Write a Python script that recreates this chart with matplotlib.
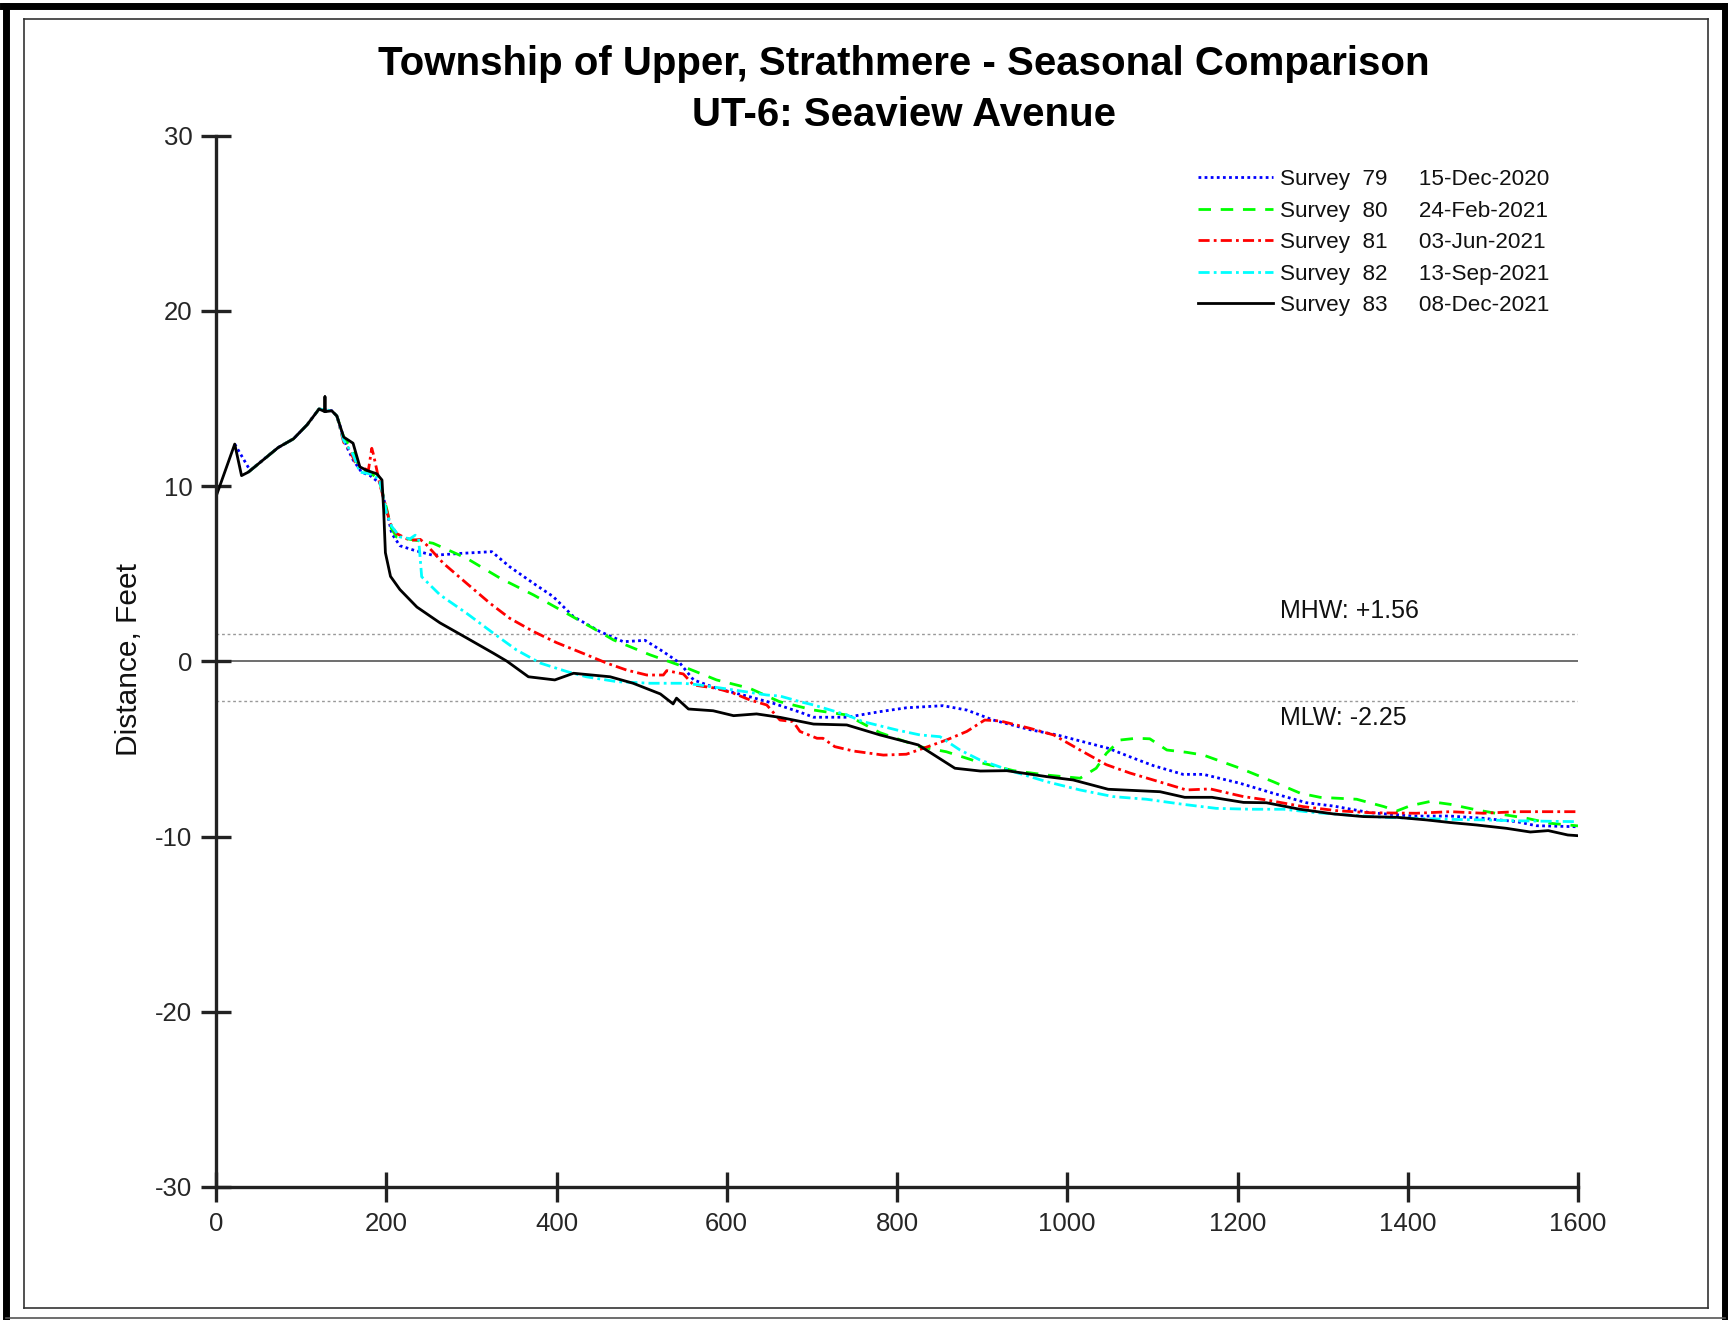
import matplotlib
matplotlib.use("Agg")
import matplotlib.pyplot as plt
from matplotlib.lines import Line2D

plt.rcParams['font.family'] = ['Liberation Sans', 'DejaVu Sans']
plt.rcParams['axes.unicode_minus'] = False

title_1 = "Township of Upper, Strathmere - Seasonal Comparison"
title_2 = "UT-6: Seaview Avenue"
y_label = "Distance, Feet"

survey_ids = ["79", "80", "81", "82", "83"]
survey_dates = ["15-Dec-2020", "24-Feb-2021", "03-Jun-2021", "13-Sep-2021", "08-Dec-2021"]

x79 = [22, 40, 73, 91, 107, 121, 136, 142, 153.5, 161, 171, 181, 192.6, 200.5, 206.4, 216, 232, 255, 287, 324,
       345, 373, 396, 420, 451, 478.5, 504, 525.5, 545, 561, 588, 627, 655, 686, 702, 741, 780, 811, 854, 882,
       913, 956, 988, 1048, 1078, 1101, 1136, 1160, 1203, 1242, 1281, 1313, 1356, 1406, 1450, 1489, 1528, 1551, 1600]
y79 = [12.4, 10.9, 12.2, 12.7, 13.5, 14.4, 14.3, 14.0, 12.25, 11.5, 10.8, 10.6, 10.16, 8.6, 7.3, 6.6, 6.35, 6.05, 6.16, 6.26,
       5.4, 4.45, 3.7, 2.55, 1.7, 1.12, 1.2, 0.55, -0.1, -1.06, -1.54, -2.02, -2.4, -2.9, -3.19, -3.19, -2.87, -2.65, -2.53, -2.78,
       -3.35, -3.9, -4.2, -4.96, -5.53, -5.95, -6.45, -6.45, -6.96, -7.53, -8.07, -8.26, -8.64, -8.83, -8.83, -8.96, -9.15, -9.38, -9.44]

x80 = [38, 73, 91, 107, 121, 136, 142, 150, 161, 169, 181, 192, 200, 206, 212, 224, 255, 294.5, 334, 373,
       412, 443, 467, 510, 549, 588, 627, 662, 702, 741, 780, 827, 858, 898, 937, 976, 1015, 1034, 1046, 1062,
       1081, 1097, 1117, 1140, 1160, 1203, 1242, 1274, 1297, 1340, 1372, 1387, 1403, 1426, 1450, 1481, 1508, 1540, 1567, 1600]
y80 = [10.8, 12.2, 12.7, 13.5, 14.4, 14.3, 14.0, 12.8, 12.0, 11.0, 10.8, 10.3, 8.8, 7.6, 7.1, 7.0, 6.74, 5.88, 4.74, 3.79,
       2.74, 1.89, 1.22, 0.37, -0.3, -1.06, -1.54, -2.3, -2.78, -3.06, -4.07, -4.87, -5.16, -5.78, -6.24, -6.49, -6.67, -6.1, -5.25, -4.49,
       -4.39, -4.42, -5.06, -5.19, -5.35, -6.1, -6.87, -7.53, -7.76, -7.87, -8.29, -8.54, -8.24, -8.0, -8.16, -8.48, -8.71, -8.96, -9.24, -9.39]

x81 = [38, 73, 91, 107, 121, 136, 142, 150, 157, 165, 179, 183, 185, 189, 192.6, 198.5, 204.4, 212, 228, 240,
       247.5, 267, 294.5, 322, 345, 373, 400, 431, 459, 482.5, 506, 525.5, 529.5, 549, 561, 588, 608, 627, 647, 662.5,
       678, 686, 706, 713, 727, 749, 784, 811, 831, 858, 882, 903, 921, 956, 984, 1015, 1046, 1074, 1101, 1140,
       1168, 1207, 1234, 1277, 1316, 1356, 1410, 1450, 1489, 1528, 1600]
y81 = [10.8, 12.2, 12.7, 13.5, 14.4, 14.3, 14.0, 12.5, 12.06, 11.2, 10.9, 12.16, 11.8, 10.9, 10.07, 9.02, 7.88, 7.3, 6.9, 6.96,
       6.64, 5.6, 4.45, 3.31, 2.46, 1.7, 1.07, 0.46, -0.1, -0.5, -0.78, -0.78, -0.53, -0.72, -1.35, -1.54, -1.82, -2.2, -2.49, -3.35,
       -3.44, -4.0, -4.39, -4.39, -4.87, -5.12, -5.35, -5.3, -4.96, -4.49, -4.0, -3.35, -3.4, -3.82, -4.2, -5.06, -5.9, -6.38, -6.77, -7.34,
       -7.28, -7.72, -7.91, -8.29, -8.52, -8.64, -8.67, -8.58, -8.67, -8.58, -8.58]

x82 = [38, 73, 91, 107, 121, 136, 142, 150, 161, 169, 181, 192, 200.5, 206.4, 216, 228, 234, 238, 241.6, 263,
       294.5, 326, 353, 381, 412, 435, 471, 510, 549, 568.5, 608, 647, 662.5, 686, 702, 741, 760, 800, 827, 850.5,
       874, 897.5, 937, 976, 1015, 1054, 1093, 1136, 1175, 1215, 1254, 1293, 1332, 1372, 1410, 1450, 1489, 1528, 1600]
y82 = [10.8, 12.2, 12.7, 13.5, 14.4, 14.3, 14.0, 12.6, 11.8, 10.8, 10.7, 10.4, 8.43, 7.7, 7.1, 7.0, 7.2, 7.0, 4.83, 3.8,
       2.74, 1.6, 0.65, -0.1, -0.58, -0.88, -1.16, -1.25, -1.25, -1.35, -1.63, -1.92, -1.98, -2.3, -2.49, -3.06, -3.44, -3.92, -4.2, -4.3,
       -5.06, -5.63, -6.3, -6.87, -7.34, -7.72, -7.87, -8.16, -8.39, -8.44, -8.44, -8.64, -8.77, -8.9, -8.96, -9.02, -9.05, -9.1, -9.15]

x83 = [0, 22, 30, 38, 73, 91, 107, 121, 128, 128, 128, 136, 142, 150, 161, 169, 177, 189, 195, 197,
       199, 205, 216, 236, 263, 295, 326, 342, 367, 398, 420, 463, 490, 522, 537, 541, 555, 584, 608, 635,
       663, 702, 741, 780, 825, 868, 898, 929, 976, 1007, 1048, 1109, 1138, 1170, 1207, 1234, 1273, 1313, 1348, 1387,
       1422, 1450, 1481, 1516, 1544, 1565, 1588, 1600]
y83 = [9.4, 12.4, 10.6, 10.8, 12.2, 12.7, 13.5, 14.4, 14.25, 15.1, 14.25, 14.3, 14.0, 12.8, 12.45, 11.1, 10.9, 10.7, 10.35, 8.6,
       6.2, 4.85, 4.1, 3.1, 2.2, 1.32, 0.46, 0.0, -0.88, -1.06, -0.68, -0.88, -1.25, -1.86, -2.43, -2.1, -2.72, -2.82, -3.1, -3.0,
       -3.2, -3.58, -3.63, -4.2, -4.77, -6.1, -6.26, -6.24, -6.58, -6.77, -7.3, -7.44, -7.76, -7.76, -8.05, -8.07, -8.44, -8.71, -8.86, -8.9,
       -9.05, -9.2, -9.34, -9.53, -9.74, -9.66, -9.91, -9.95]

mhw = 1.56
mlw = -2.25
x_ticks = [0, 200, 400, 600, 800, 1000, 1200, 1400, 1600]
y_ticks = [-30, -20, -10, 0, 10, 20, 30]

W, H = 1728, 1320
fig = plt.figure(figsize=(W / 100, H / 100), dpi=100)
ax = fig.add_axes([216/W, 1-1187/H, (1578-216)/W, (1187-135.7)/H])

def fx(px):
    return px / W

def fy(py):
    return 1 - py / H

# page frames
for xs, ys, lw, c in [
    ([6, 6], [6, 1317], 5, 'black'),
    ([3, 1725], [6, 6], 5, 'black'),
    ([1725, 1725], [6, 1317], 5, 'black'),
    ([6, 1725], [1317.5, 1317.5], 1.2, '#555555'),
]:
    fig.add_artist(Line2D([fx(v) for v in xs], [fy(v) for v in ys], lw=lw, color=c, transform=fig.transFigure))
for xs, ys in [([24, 24], [19, 1308]), ([24, 1708], [19, 19]), ([1708, 1708], [19, 1308]), ([24, 1708], [1308, 1308])]:
    fig.add_artist(Line2D([fx(v) for v in xs], [fy(v) for v in ys], lw=1.2, color='#333333', transform=fig.transFigure))

ax.axhline(0, color='#555555', lw=1.2, zorder=1)
ax.axhline(mhw, color='#999999', lw=1.0, ls=(0, (2, 2)), zorder=1)
ax.axhline(mlw, color='#999999', lw=1.0, ls=(0, (2, 2)), zorder=1)
ax.text(1250, mhw + 0.63, f"MHW: +{mhw:.2f}", fontsize=18, color='#111111', va='bottom', ha='left')
ax.text(1250, mlw - 0.3, f"MLW: {mlw:.2f}", fontsize=18, color='#111111', va='top', ha='left')

styles = [
    (x79, y79, '#0000FF', (0, (1, 1.2))),
    (x80, y80, '#00FF00', (0, (4.5, 3.5))),
    (x81, y81, '#FF0000', (0, (4, 1.5, 1, 1.5))),
    (x82, y82, '#00FFFF', (0, (4, 1.5, 1, 1.5))),
    (x83, y83, '#000000', '-'),
]
for (xs, ys, c, ls), sid, d in zip(styles, survey_ids, survey_dates):
    ax.plot(xs, ys, color=c, ls=ls, lw=2.0, label=f"Survey  {sid}     {d}", zorder=3)

ax.set_xlim(0, 1600)
ax.set_ylim(-30, 30)
ax.set_xticks(x_ticks)
ax.set_yticks(y_ticks)
for s in ['top', 'right']:
    ax.spines[s].set_visible(False)
for s in ['left', 'bottom']:
    ax.spines[s].set_linewidth(2.4)
    ax.spines[s].set_color('#222222')
    ax.spines[s].set_zorder(4)
ax.tick_params(axis='both', direction='inout', length=22, width=2.4, color='#222222',
               labelsize=18.5, labelcolor='#262626')
ax.tick_params(axis='x', pad=7)
ax.tick_params(axis='y', pad=6)

fig.text(fx(129), fy(660), y_label, rotation=90, ha='center', va='center', fontsize=21.5, color='#111111')
fig.text(fx(904), fy(64), title_1, ha='center', va='center', fontsize=29, fontweight='bold')
fig.text(fx(904), fy(115), title_2, ha='center', va='center', fontsize=29, fontweight='bold')

leg = ax.legend(loc='upper left', bbox_to_anchor=(fx(1198), fy(169)), bbox_transform=fig.transFigure,
                frameon=False, fontsize=16.2, handlelength=3.35, handletextpad=0.3, labelspacing=0.47,
                borderpad=0, borderaxespad=0)
for t in leg.get_texts():
    t.set_color('#111111')

fig.savefig("out.png", dpi=100)
